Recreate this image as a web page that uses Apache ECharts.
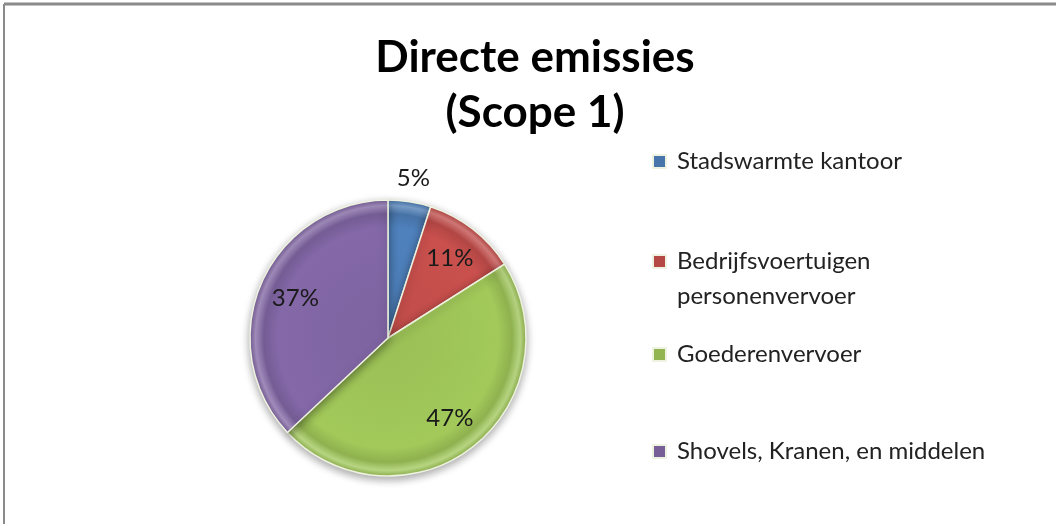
<!DOCTYPE html>
<html>
<head>
<meta charset="utf-8">
<script src="https://cdn.jsdelivr.net/npm/echarts@6/dist/echarts.min.js"></script>
<style>
  html, body { margin: 0; padding: 0; background: #fff; }
  #chart_pie { width: 1056px; height: 524px; }
</style>
</head>
<body>
<div id="chart_pie"></div>
<script>
let categories = ['Stadswarmte kantoor', 'Bedrijfsvoertuigen personenvervoer', 'Goederenvervoer', 'Shovels, Kranen, en middelen'];
// the leading blank line keeps the marker level with the first text line
let legendLabels = ['Stadswarmte kantoor', ' \nBedrijfsvoertuigen\npersonenvervoer', 'Goederenvervoer', 'Shovels, Kranen, en middelen'];
let values = [5, 11, 47, 37];
let colors = ['#4f81bd', '#c9504d', '#a2c95a', '#8468a8'];

let chart_pie = document.getElementById("chart_pie");
let myChart = echarts.init(chart_pie);

let cx = 388, cy = 338, r = 138;
let font = 'Lato, "Open Sans", sans-serif';

function shade(hex, k) {
    let n = parseInt(hex.slice(1), 16);
    let c = [(n >> 16) & 255, (n >> 8) & 255, n & 255].map(function (v) {
        return Math.max(0, Math.min(255, Math.round(k > 0 ? v + (255 - v) * k : v * (1 + k))));
    });
    return 'rgb(' + c.join(',') + ')';
}

function bevel(hex) {
    return {
        type: 'radial', x: cx, y: cy, r: r, global: true,
        colorStops: [
            { offset: 0, color: shade(hex, -0.05) },
            { offset: 0.8, color: hex },
            { offset: 0.9, color: shade(hex, -0.12) },
            { offset: 0.96, color: shade(hex, 0.25) },
            { offset: 1, color: shade(hex, -0.1) }
        ]
    };
}

let pieData = categories.map(function (name, i) {
    return { name: name, value: values[i], itemStyle: { color: bevel(colors[i]) } };
});

// labels inside at ~0.71 r, except the small first slice which sits outside
let innerLabels = categories.map(function (name, i) {
    return { name: name, value: values[i], label: { show: i !== 0 } };
});
let outerLabels = categories.map(function (name, i) {
    return { name: name, value: values[i], label: { show: i === 0 } };
});

let legendTops = [144, 209, 337, 434];

let option = {
    animation: false,
    color: colors,
    title: {
        text: 'Directe emissies\n(Scope 1)',
        left: 535,
        top: 30,
        padding: 0,
        textAlign: 'center',
        textStyle: { fontFamily: font, fontWeight: 'bold', fontSize: 44, lineHeight: 55, color: '#000' }
    },
    legend: categories.map(function (name, i) {
        return {
            data: [name],
            left: 652,
            top: legendTops[i],
            padding: 0,
            orient: 'vertical',
            icon: 'rect',
            itemWidth: 13,
            itemHeight: 13,
            selectedMode: false,
            formatter: function () { return legendLabels[i]; },
            textStyle: {
                fontFamily: font, fontSize: 24, lineHeight: 35, color: '#222',
                padding: [0, 0, 0, 6]
            }
        };
    }),
    graphic: [
        { type: 'line', shape: { x1: 4, y1: 4, x2: 1056, y2: 4 }, style: { stroke: '#8a8a8a', lineWidth: 3 } },
        { type: 'line', shape: { x1: 4, y1: 4, x2: 4, y2: 524 }, style: { stroke: '#8a8a8a', lineWidth: 2 } }
    ],
    series: [
        {
            type: 'pie',
            center: [cx, cy],
            radius: r,
            startAngle: 90,
            clockwise: true,
            silent: true,
            label: { show: false },
            labelLine: { show: false },
            itemStyle: {
                borderColor: '#eef2e0',
                borderWidth: 1.5,
                shadowColor: 'rgba(0,0,0,0.35)',
                shadowBlur: 8,
                shadowOffsetY: 3
            },
            data: pieData
        },
        {
            type: 'pie',
            center: [cx, cy],
            radius: [r * 0.42, r],
            startAngle: 90,
            silent: true,
            itemStyle: { color: 'rgba(0,0,0,0)' },
            label: {
                position: 'inside',
                formatter: '{c}%',
                fontFamily: font, fontSize: 24, color: '#1a1a1a'
            },
            labelLine: { show: false },
            data: innerLabels
        },
        {
            type: 'pie',
            center: [cx, cy],
            radius: [r + 6, r + 36],
            startAngle: 90,
            silent: true,
            itemStyle: { color: 'rgba(0,0,0,0)' },
            label: {
                position: 'inside',
                formatter: '{c}%',
                fontFamily: font, fontSize: 24, color: '#1a1a1a'
            },
            labelLine: { show: false },
            data: outerLabels
        }
    ]
};

myChart.setOption(option);
</script>
</body>
</html>
